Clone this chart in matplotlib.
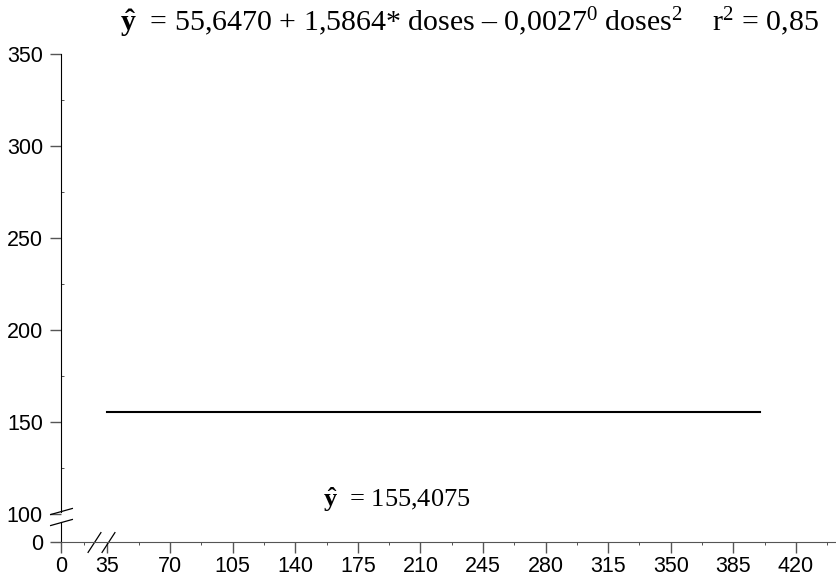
import numpy as np
import matplotlib
matplotlib.use("Agg")
import matplotlib.pyplot as plt
from matplotlib.path import Path

# %% Data
dose_range = [35, 400]
fitted_mean = [155.4075, 155.4075]
x_ticks = [0, 35, 70, 105, 140, 175, 210, 245, 280, 315, 350, 385, 420]
y_ticks = [0, 100, 150, 200, 250, 300, 350]
eq_top = r'$\mathbf{\hat{y}}$  = 55,6470 + 1,5864* doses – 0,0027$^0$ doses$^2$    r$^2$ = 0,85'
eq_bottom = r'$\mathbf{\hat{y}}$  = 155,4075'

plt.rcParams['font.family'] = ['Liberation Sans', 'DejaVu Sans']
plt.rcParams['mathtext.fontset'] = 'custom'
plt.rcParams['mathtext.rm'] = 'Liberation Serif'
plt.rcParams['mathtext.it'] = 'Liberation Serif:italic'
plt.rcParams['mathtext.bf'] = 'Liberation Serif:bold'


# broken axes: squeeze the part below the first real value
def x_fwd(x):
    x = np.asarray(x, dtype=float)
    return np.where(x < 35, 9 + x * 26 / 35, x)


def x_inv(t):
    t = np.asarray(t, dtype=float)
    return np.where(t < 35, (t - 9) * 35 / 26, t)


def y_fwd(y):
    y = np.asarray(y, dtype=float)
    return np.where(y < 100, 84.8 + y * 0.152, y)


def y_inv(t):
    t = np.asarray(t, dtype=float)
    return np.where(t < 100, (t - 84.8) / 0.152, t)


# %% Figure
fig = plt.figure(figsize=(8.37, 5.76), dpi=100)
ax = fig.add_axes([61 / 837, 1 - 542 / 576, 1 - 61 / 837, (542 - 54) / 576])
ax.set_xscale('function', functions=(x_fwd, x_inv))
ax.set_yscale('function', functions=(y_fwd, y_inv))
ax.set_xlim(0, 443)
ax.set_ylim(0, 350)

ax.plot(dose_range, fitted_mean, color='black', lw=1.5)

ax.set_xticks(x_ticks)
ax.set_xticks(np.arange(17.5, 443, 35), minor=True)
ax.set_yticks(y_ticks)
ax.set_yticks(np.arange(125, 350, 50), minor=True)
ax.tick_params(axis='both', which='major', labelsize=15.5, length=8, width=1, color='#555555')
ax.tick_params(axis='x', which='major', pad=2)
ax.tick_params(axis='y', which='major', pad=5)
ax.tick_params(axis='x', which='minor', length=2, direction='out', color='#333333')
ax.tick_params(axis='y', which='minor', length=2, direction='in', color='#333333')

for s in ['top', 'right']:
    ax.spines[s].set_visible(False)
ax.spines['bottom'].set_color('#555555')
ax.spines['left'].set_bounds(101, 350)
ax.plot([0, 0], [0, 71], color='black', lw=0.8, clip_on=False)

# break marks
y_slash = Path([(-1, -0.28), (1, 0.28)], [Path.MOVETO, Path.LINETO])
x_slash = Path([(-0.65, -1), (0.65, 1)], [Path.MOVETO, Path.LINETO])
ax.plot([0, 0], [101.4, 71.6], ls='none', marker=y_slash, markersize=16.5,
        markeredgecolor='black', markeredgewidth=0.9, clip_on=False)
ax.plot([25, 35.3], [0, 0], ls='none', marker=x_slash, markersize=15,
        markeredgecolor='black', markeredgewidth=0.9, clip_on=False)

fig.text(120 / 837, 1 - 31 / 576, eq_top, fontsize=21.5, family='Liberation Serif')
ax.text((323 - 61) / 776, (542 - 507) / 488, eq_bottom, fontsize=19,
        family='Liberation Serif', transform=ax.transAxes)

fig.savefig('out.png', dpi=100)
